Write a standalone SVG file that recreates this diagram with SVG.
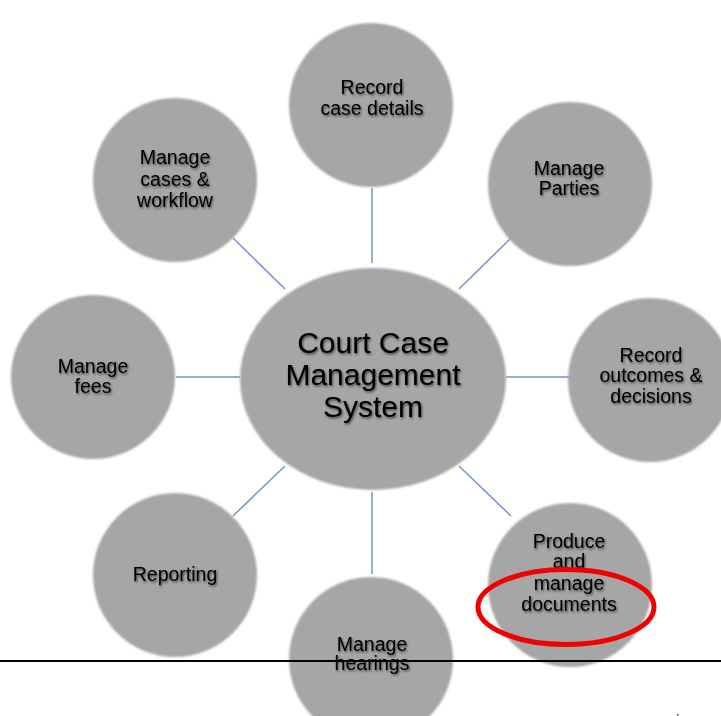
<svg xmlns="http://www.w3.org/2000/svg" width="721" height="716" viewBox="0 0 721 716">
<style>
.node{fill:#A6A6A6;filter:url(#soft);}
.lbl{font-family:"Liberation Sans",Arial,sans-serif;font-size:19.5px;fill:#000;text-anchor:middle;filter:url(#shadow);}
.big{font-size:30px;}
.conn line{stroke:#6E97C9;stroke-width:1.5;}
</style>
<defs>
<filter id="soft" x="-10%" y="-10%" width="120%" height="120%"><feGaussianBlur stdDeviation="1.2"/></filter>
<filter id="shadow" x="-20%" y="-40%" width="140%" height="180%"><feDropShadow dx="1" dy="1.5" stdDeviation="1.3" flood-color="#000" flood-opacity="0.6"/></filter>
</defs>
<rect width="721" height="716" fill="#fff"/>
<g id="connectors" class="conn">
<line x1="372" y1="188" x2="372" y2="263"/>
<line x1="176" y1="377" x2="240" y2="377"/>
<line x1="506" y1="377" x2="570" y2="377"/>
<line x1="372" y1="492" x2="372" y2="574"/>
<line x1="233" y1="238" x2="285" y2="289"/>
<line x1="511" y1="238" x2="459" y2="289"/>
<line x1="233" y1="516" x2="285" y2="466"/>
<line x1="511" y1="516" x2="459" y2="466"/>
</g>
<g id="n-center"><ellipse class="node" cx="373" cy="379" rx="133" ry="111"/>
<text class="lbl big" x="373" y="353">Court Case</text><text class="lbl big" x="373" y="385">Management</text><text class="lbl big" x="373" y="417">System</text></g>
<g id="n-record"><circle class="node" cx="371" cy="105" r="82"/>
<text class="lbl" x="372" y="94">Record</text><text class="lbl" x="372" y="115">case details</text></g>
<g id="n-parties"><circle class="node" cx="570" cy="184" r="82"/>
<text class="lbl" x="569" y="175">Manage</text><text class="lbl" x="569" y="195">Parties</text></g>
<g id="n-outcomes"><circle class="node" cx="650" cy="380" r="82"/>
<text class="lbl" x="651" y="362">Record</text><text class="lbl" x="651" y="382">outcomes &amp;</text><text class="lbl" x="651" y="403">decisions</text></g>
<g id="n-documents"><circle class="node" cx="570" cy="585" r="82"/>
<text class="lbl" x="569" y="548">Produce</text><text class="lbl" x="569" y="568">and</text><text class="lbl" x="569" y="590">manage</text><text class="lbl" x="569" y="611">documents</text></g>
<g id="n-hearings"><circle class="node" cx="371" cy="659" r="82"/>
<text class="lbl" x="372" y="651">Manage</text><text class="lbl" x="372" y="670">hearings</text></g>
<g id="n-reporting"><circle class="node" cx="175" cy="575" r="82"/>
<text class="lbl" x="175" y="581">Reporting</text></g>
<g id="n-fees"><circle class="node" cx="93" cy="377" r="82"/>
<text class="lbl" x="93" y="373">Manage</text><text class="lbl" x="93" y="393">fees</text></g>
<g id="n-cases"><circle class="node" cx="175" cy="180" r="82"/>
<text class="lbl" x="175" y="164">Manage</text><text class="lbl" x="175" y="186">cases &amp;</text><text class="lbl" x="175" y="207">workflow</text></g>
<ellipse id="highlight" cx="566" cy="607" rx="88" ry="37.5" fill="none" stroke="#F00000" stroke-width="5"/>
<line id="rule" x1="0" y1="661" x2="721" y2="661" stroke="#000" stroke-width="2"/>
<rect x="677" y="714" width="1.5" height="1.5" fill="#553333"/>
</svg>
